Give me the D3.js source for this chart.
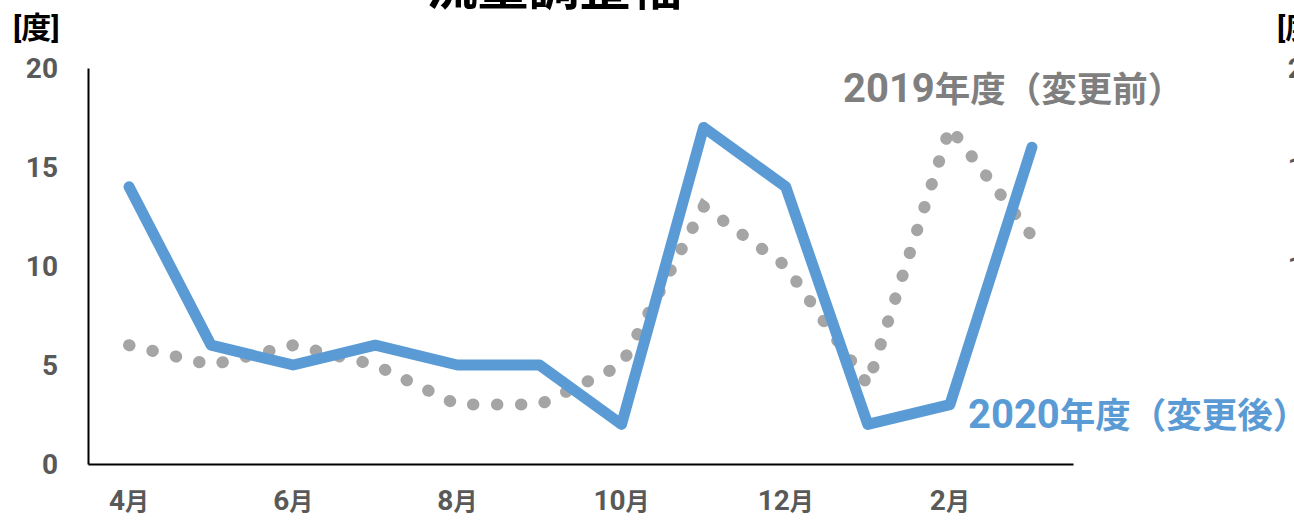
<!DOCTYPE html>
<html>
<head>
<meta charset="utf-8">
<script src="https://cdn.jsdelivr.net/npm/d3@7"></script>
<style>
  body { margin: 0; background: #fff; }
  text { font-family: Roboto, "Noto Sans CJK JP", sans-serif; font-weight: bold; }
</style>
</head>
<body>
<div class="chart"></div>
<script>
// 流量調整幅 chart
var months = ["4月", "5月", "6月", "7月", "8月", "9月", "10月", "11月", "12月", "1月", "2月", "3月"];
var tickMonths = ["4月", "6月", "8月", "10月", "12月", "2月"];
var yTicks = [0, 5, 10, 15, 20];
var rightTicks = [10, 15, 20];
var fy2019 = [6, 5, 6, 5, 3, 3, 5, 13, 10, 4, 17, 11.5];
var fy2020 = [14, 6, 5, 6, 5, 5, 2, 17, 14, 2, 3, 16];

var svgWidth = 1294;
var svgHeight = 525;
var margin = { top: 68, right: 221, bottom: 61, left: 88 };
var width = svgWidth - margin.left - margin.right;
var height = svgHeight - margin.top - margin.bottom;

var svg = d3.select(".chart")
  .append("svg")
  .attr("width", svgWidth)
  .attr("height", svgHeight);

var chart = svg.append("g")
  .attr("transform", "translate(" + margin.left + "," + margin.top + ")");

var xScale = d3.scaleBand().domain(months).range([0, width]);
var yScale = d3.scaleLinear().domain([0, 20]).range([height, 0]);

// split "2019年度…" into latin digits and CJK part, digits drawn larger
function mixedText(sel, str, bigSize, smallSize) {
  var m = str.match(/^(\d+)(.*)$/);
  sel.append("tspan").attr("font-size", bigSize).text(m[1]);
  sel.append("tspan").attr("font-size", smallSize).text(m[2]);
}

// title (cut off at the top)
svg.append("text")
  .attr("x", 554)
  .attr("y", 5)
  .attr("text-anchor", "middle")
  .attr("font-size", "51px")
  .attr("fill", "#000")
  .text("流量調整幅");

// unit labels
svg.append("text")
  .attr("x", 13)
  .attr("y", 38)
  .attr("font-size", "30px")
  .attr("fill", "#000")
  .text("[度]");
svg.append("text")
  .attr("x", 1277)
  .attr("y", 38)
  .attr("font-size", "30px")
  .attr("fill", "#000")
  .text("[度]");

// y tick labels, left and (cut off) right
chart.selectAll(".ylab")
  .data(yTicks)
  .enter().append("text")
  .attr("class", "ylab")
  .attr("x", -30)
  .attr("y", function(d) { return yScale(d); })
  .attr("dy", "0.35em")
  .attr("text-anchor", "end")
  .attr("font-size", "28px")
  .attr("fill", "#595959")
  .text(function(d) { return d; });
chart.selectAll(".ylab2")
  .data(rightTicks)
  .enter().append("text")
  .attr("class", "ylab2")
  .attr("x", 1232)
  .attr("y", function(d) { return yScale(d); })
  .attr("dy", "0.35em")
  .attr("text-anchor", "end")
  .attr("font-size", "28px")
  .attr("fill", "#595959")
  .text(function(d) { return d; });

// axes
var bottomAxis = d3.axisBottom(xScale).tickSize(0).tickValues(tickMonths);
var leftAxis = d3.axisLeft(yScale).tickSize(0).tickValues([]);
var xg = chart.append("g")
  .attr("transform", "translate(0," + height + ")")
  .call(bottomAxis);
xg.select(".domain").attr("stroke", "#000").attr("stroke-width", 2);
xg.selectAll(".tick text")
  .attr("y", 46)
  .attr("dy", null)
  .attr("font-family", "Roboto, 'Noto Sans CJK JP', sans-serif")
  .attr("font-weight", "bold")
  .attr("fill", "#595959")
  .each(function(d) {
    var t = d3.select(this).text(null);
    mixedText(t, d, "28px", "24px");
  });
var yg = chart.append("g").call(leftAxis);
yg.select(".domain").attr("stroke", "#000").attr("stroke-width", 2);

var line = d3.line()
  .x(function(d, i) { return xScale(months[i]) + xScale.bandwidth() / 2; })
  .y(function(d) { return yScale(d); });

// 2019 dotted
chart.append("path")
  .datum(fy2019)
  .attr("d", line)
  .attr("fill", "none")
  .attr("stroke", "#a5a5a5")
  .attr("stroke-width", 12)
  .attr("stroke-linecap", "round")
  .attr("stroke-dasharray", "0.5,23.5");

// 2020 solid
chart.append("path")
  .datum(fy2020)
  .attr("d", line)
  .attr("fill", "none")
  .attr("stroke", "#5b9bd5")
  .attr("stroke-width", 11)
  .attr("stroke-linejoin", "round")
  .attr("stroke-linecap", "round");

// series labels
svg.append("text")
  .attr("x", 843)
  .attr("y", 102)
  .attr("fill", "#7f7f7f")
  .call(mixedText, "2019年度（変更前）", "40px", "35.5px");
svg.append("text")
  .attr("x", 968)
  .attr("y", 428)
  .attr("fill", "#5b9bd5")
  .call(mixedText, "2020年度（変更後）", "40px", "35.5px");
</script>
</body>
</html>
